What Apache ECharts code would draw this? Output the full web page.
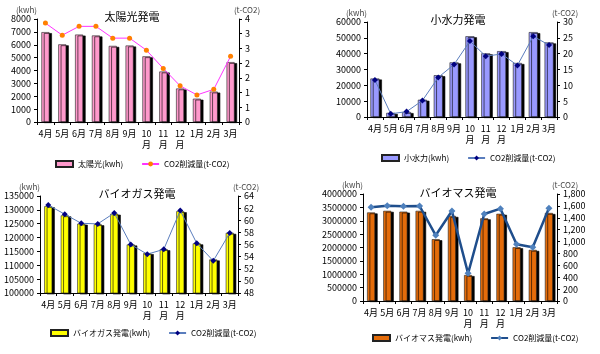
<!DOCTYPE html>
<html>
<head>
<meta charset="utf-8">
<script src="https://cdn.jsdelivr.net/npm/echarts@6/dist/echarts.min.js"></script>
<style>
  body { margin: 0; background: #fff; }
  .c { position: absolute; width: 300px; height: 177px; }
</style>
</head>
<body>
<div id="solar" class="c" style="left:0;top:0"></div>
<div id="hydro" class="c" style="left:300px;top:0"></div>
<div id="biogas" class="c" style="left:0;top:177px"></div>
<div id="biomass" class="c" style="left:300px;top:177px"></div>
<script>
// --- données ---
const months = ['4月', '5月', '6月', '7月', '8月', '9月', '10\n月', '11\n月', '12\n月', '1月', '2月', '3月'];

const solarKwh = [6980, 6030, 6790, 6720, 5910, 5940, 5100, 3920, 2600, 1810, 2360, 4650];
const solarCo2 = [3.36, 2.95, 3.25, 3.25, 2.85, 2.85, 2.44, 1.82, 1.23, 0.92, 1.11, 2.23];

const hydroKwh = [24300, 2600, 3100, 10900, 26400, 34500, 51000, 40200, 41600, 34100, 53600, 47100];
const hydroCo2 = [11.7, 1.0, 1.7, 5.2, 12.5, 16.6, 24.0, 19.2, 19.9, 16.3, 25.5, 22.7];

const biogasKwh = [131300, 128000, 125000, 124800, 128600, 117500, 114400, 115800, 129500, 117900, 112100, 121700];
const biogasCo2 = [62.5, 61.0, 59.5, 59.4, 61.2, 56.0, 54.4, 55.2, 61.6, 56.2, 53.3, 57.9];

const biomassKwh = [3310000, 3370000, 3340000, 3370000, 2310000, 3180000, 970000, 3090000, 3260000, 2010000, 1910000, 3290000];
const biomassCo2 = [1576, 1604, 1593, 1598, 1105, 1514, 465, 1464, 1553, 953, 903, 1559];

const FONT = '"Noto Sans CJK JP", "Noto Sans", sans-serif';
const co2Name = 'CO2削減量(t-CO2)';

function makeChart(id, cfg) {
    const chart = echarts.init(document.getElementById(id));
    const axisCommon = {
        axisLine: { show: true, lineStyle: { color: '#000', width: 1 } },
        axisTick: { show: true, length: 3, lineStyle: { color: '#000' } },
        splitLine: { show: false },
        axisLabel: { color: '#000', fontSize: 9, fontFamily: FONT, margin: 6 }
    };
    chart.setOption({
        animation: false,
        textStyle: { fontFamily: FONT },
        title: {
            text: cfg.title,
            left: cfg.titleX, top: cfg.titleY,
            textAlign: 'center',
            textStyle: { fontSize: 11, fontWeight: 'normal', color: '#000', fontFamily: FONT }
        },
        grid: cfg.grid,
        legend: {
            data: [{ name: cfg.barName, icon: 'rect' }, co2Name],
            left: cfg.legendX, top: cfg.legendY,
            itemWidth: 17, itemHeight: 6, itemGap: 18,
            textStyle: { fontSize: 8, color: '#000', fontFamily: FONT }
        },
        xAxis: {
            type: 'category',
            data: months,
            ...axisCommon,
            axisLabel: { ...axisCommon.axisLabel, interval: 0, margin: 6, lineHeight: 11 }
        },
        yAxis: [
            {
                type: 'value', min: cfg.left[0], max: cfg.left[1], interval: cfg.left[2],
                name: '(kwh)', nameLocation: 'end', nameGap: 5,
                nameTextStyle: { fontSize: 8, color: '#444', align: 'right', fontFamily: FONT },
                ...axisCommon,
                axisLabel: { ...axisCommon.axisLabel, formatter: v => String(v) }
            },
            {
                type: 'value', min: cfg.right[0], max: cfg.right[1], interval: cfg.right[2],
                name: '(t-CO2)', nameLocation: 'end', nameGap: 5,
                nameTextStyle: { fontSize: 8, color: '#444', align: 'center', padding: [0, 0, 0, 16], fontFamily: FONT },
                ...axisCommon,
                axisLabel: { ...axisCommon.axisLabel, formatter: cfg.rightFmt }
            }
        ],
        series: [
            {
                name: cfg.barName,
                type: 'bar',
                data: cfg.bars,
                barWidth: cfg.barWidth,
                itemStyle: {
                    color: cfg.barColor,
                    borderColor: '#222',
                    borderWidth: 0.6,
                    shadowColor: '#000',
                    shadowBlur: 0,
                    shadowOffsetX: 2.5,
                    shadowOffsetY: 1
                }
            },
            {
                name: co2Name,
                type: 'line',
                yAxisIndex: 1,
                data: cfg.line,
                symbol: cfg.symbol,
                symbolSize: cfg.symbolSize,
                z: 5,
                lineStyle: { color: cfg.lineColor, width: cfg.lineWidth },
                itemStyle: { color: cfg.markerColor, borderWidth: 0 }
            }
        ]
    });
    return chart;
}

makeChart('solar', {
    title: '太陽光発電', titleX: 127, titleY: 6,
    grid: { left: 37, right: 61, top: 19, bottom: 55 },
    legendX: 50, legendY: 155,
    left: [0, 8000, 1000], right: [0, 3.5, 0.5],
    rightFmt: v => String(Math.round(v)),
    barName: '太陽光(kwh)', bars: solarKwh, barColor: '#ff99cc', barWidth: 8,
    line: solarCo2, lineColor: '#ff33ff', lineWidth: 1,
    symbol: 'circle', symbolSize: 5, markerColor: '#ff8000'
});

makeChart('hydro', {
    title: '小水力発電', titleX: 153, titleY: 9,
    grid: { left: 67, right: 43, top: 22, bottom: 60 },
    legendX: 76, legendY: 149,
    left: [0, 60000, 10000], right: [0, 30, 5],
    rightFmt: v => String(v),
    barName: '小水力(kwh)', bars: hydroKwh, barColor: '#9999ff', barWidth: 9,
    line: hydroCo2, lineColor: '#5a7dbd', lineWidth: 1,
    symbol: 'diamond', symbolSize: 6, markerColor: '#000080'
});

makeChart('biogas', {
    title: 'バイオガス発電', titleX: 132, titleY: 6,
    grid: { left: 40, right: 62, top: 19, bottom: 61 },
    legendX: 45, legendY: 147,
    left: [100000, 135000, 5000], right: [48, 64, 2],
    rightFmt: v => String(v),
    barName: 'バイオガス発電(kwh)', bars: biogasKwh, barColor: '#ffff00', barWidth: 8,
    line: biogasCo2, lineColor: '#5a7dbd', lineWidth: 1,
    symbol: 'diamond', symbolSize: 6, markerColor: '#000080'
});

makeChart('biomass', {
    title: 'バイオマス発電', titleX: 153, titleY: 5,
    grid: { left: 63, right: 43, top: 17, bottom: 53 },
    legendX: 67, legendY: 152,
    left: [0, 4000000, 500000], right: [0, 1800, 200],
    rightFmt: v => v.toLocaleString('en-US'),
    barName: 'バイオマス発電(kwh)', bars: biomassKwh, barColor: '#e46c0a', barWidth: 8,
    line: biomassCo2, lineColor: '#1f4e8c', lineWidth: 2.5,
    symbol: 'diamond', symbolSize: 7, markerColor: '#4f81bd'
});
</script>
</body>
</html>
